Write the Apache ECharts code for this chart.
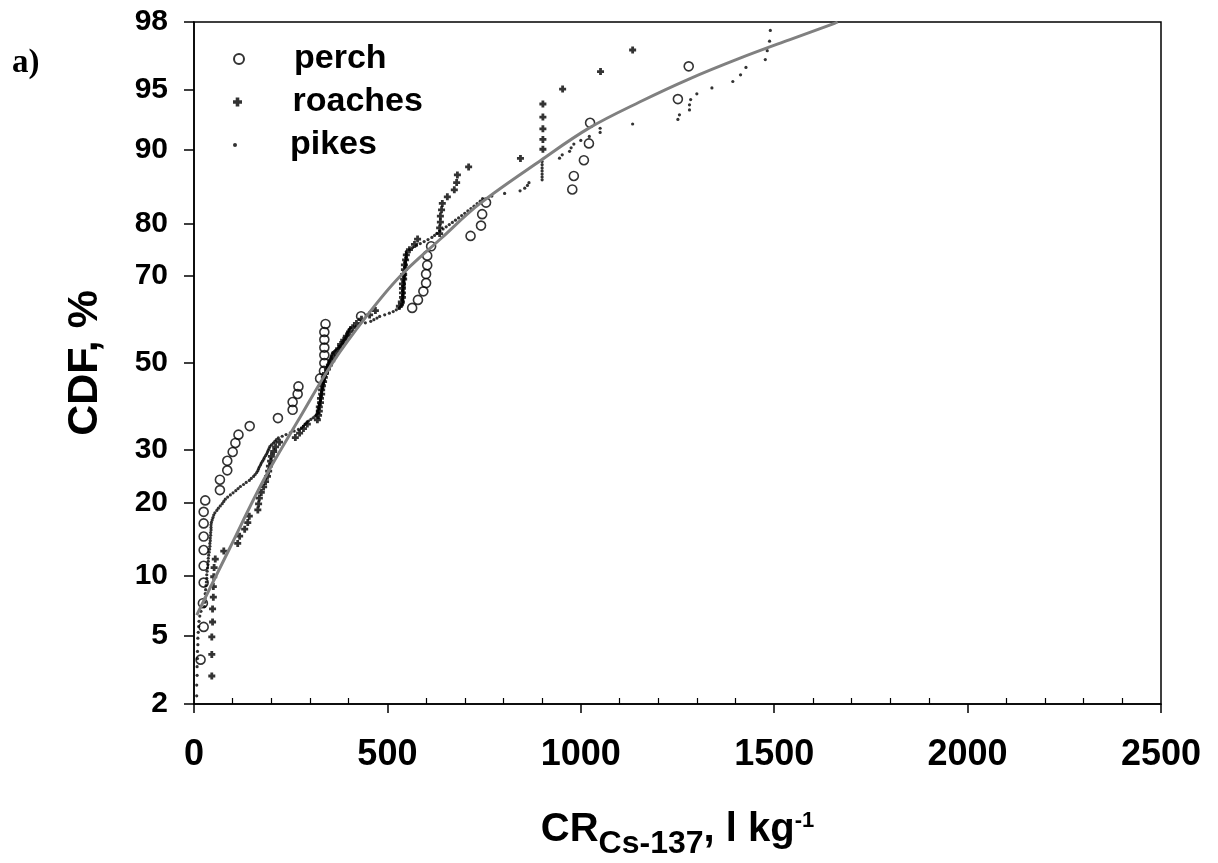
<!DOCTYPE html>
<html><head><meta charset="utf-8">
<script src="https://cdn.jsdelivr.net/npm/echarts@6/dist/echarts.min.js"></script>
<style>html,body{margin:0;padding:0;background:#fff}#chart{width:1218px;height:863px}</style>
</head><body><div id="chart"></div>
<script>
// ---- data (x = CR value, l/kg ; cdf = cumulative %) ----
const perchX = [17,25,23,25,25,25,25,25,25,29,67,67,86,86,100,107,115,144,217,255,255,268,270,326,336,337,337,337,337,337,340,432,564,579,593,600,600,603,603,613,715,742,745,755,978,982,1008,1021,1024,1251,1279];
const perchCDF = [3.7,5.6,7.4,9.3,11.1,13.0,14.8,16.7,18.5,20.4,22.2,24.1,25.9,27.8,29.6,31.5,33.3,35.2,37.0,38.9,40.7,42.6,44.4,46.3,48.1,50.0,51.9,53.7,55.6,57.4,59.3,61.1,63.0,64.8,66.7,68.5,70.4,72.2,74.1,75.9,77.8,79.6,81.5,83.3,85.2,87.0,88.9,90.7,92.6,94.4,96.3];

const roachX = [46,46,46,48,48,50,50,51,52,55,77,113,118,131,139,143,165,167,169,174,180,185,190,193,195,198,200,206,211,221,262,273,283,293,319,322,324,324,327,327,330,330,332,335,337,340,345,350,356,361,366,374,379,387,394,402,410,420,433,454,469,531,536,539,539,539,539,542,542,544,544,547,549,557,570,578,635,635,637,637,640,642,655,673,679,681,710,844,902,902,902,902,902,953,1051,1134];
const roachCDF = [2.97,3.96,4.95,5.94,6.93,7.92,8.91,9.90,10.89,11.88,12.87,13.86,14.85,15.84,16.83,17.82,18.81,19.80,20.79,21.78,22.77,23.76,24.75,25.74,26.73,27.72,28.71,29.70,30.69,31.68,32.67,33.66,34.65,35.64,36.63,37.62,38.61,39.60,40.59,41.58,42.57,43.56,44.55,45.54,46.53,47.52,48.51,49.50,50.50,51.49,52.48,53.47,54.46,55.45,56.44,57.43,58.42,59.41,60.40,61.39,62.38,63.37,64.36,65.35,66.34,67.33,68.32,69.31,70.30,71.29,72.28,73.27,74.26,75.25,76.24,77.23,78.22,79.21,80.20,81.19,82.18,83.17,84.16,85.15,86.14,87.13,88.12,89.11,90.10,91.09,92.08,93.07,94.06,95.05,96.04,97.03];

const pikeX = [7,7,8,8,9,9,10,10,11,12,13,15,18,27,28,29,29,30,31,32,33,33,34,35,36,37,37,38,39,40,41,41,42,42,43,43,44,44,44,45,47,49,51,54,59,63,68,73,77,81,87,94,101,108,114,120,128,135,143,148,154,158,162,165,167,169,172,174,177,180,182,185,188,190,192,194,196,200,205,209,213,218,228,238,249,259,270,278,283,287,291,296,302,308,313,317,319,320,321,322,323,324,325,326,327,327,328,329,330,330,331,332,333,333,334,335,336,337,338,339,340,341,342,343,344,345,346,347,348,350,352,354,355,357,358,363,368,373,376,380,383,385,387,390,393,395,397,398,400,401,405,415,428,443,457,465,473,480,493,505,515,523,530,534,539,540,540,540,540,540,541,541,541,541,541,543,543,543,543,543,545,545,545,545,545,547,547,547,547,547,549,549,549,549,549,557,565,575,585,595,605,615,622,628,636,644,652,660,668,676,684,692,700,708,716,724,732,740,746,770,803,843,855,862,866,900,900,900,900,900,900,900,945,952,971,975,982,1000,1022,1050,1050,1134,1251,1255,1281,1281,1284,1300,1339,1393,1413,1427,1477,1482,1488,1490];
const pikeCDF = [2.25,2.62,3.00,3.37,3.75,4.12,4.49,4.87,5.24,5.62,5.99,6.37,6.74,7.12,7.49,7.86,8.24,8.61,8.99,9.36,9.74,10.11,10.49,10.86,11.24,11.61,11.98,12.36,12.73,13.11,13.48,13.86,14.23,14.61,14.98,15.35,15.73,16.10,16.48,16.85,17.23,17.60,17.98,18.35,18.73,19.10,19.47,19.85,20.22,20.60,20.97,21.35,21.72,22.10,22.47,22.85,23.22,23.60,23.97,24.34,24.72,25.09,25.47,25.84,26.22,26.59,26.96,27.34,27.71,28.09,28.46,28.84,29.21,29.59,29.96,30.33,30.71,31.08,31.46,31.83,32.21,32.58,32.96,33.33,33.71,34.08,34.45,34.83,35.20,35.58,35.95,36.33,36.70,37.08,37.45,37.83,38.20,38.57,38.95,39.32,39.70,40.07,40.45,40.82,41.20,41.57,41.94,42.32,42.69,43.07,43.44,43.82,44.19,44.57,44.94,45.31,45.69,46.06,46.44,46.81,47.19,47.56,47.94,48.31,48.69,49.06,49.43,49.81,50.18,50.56,50.93,51.31,51.68,52.06,52.43,52.81,53.18,53.56,53.93,54.30,54.68,55.05,55.43,55.80,56.18,56.55,56.92,57.30,57.67,58.05,58.42,58.80,59.17,59.55,59.92,60.30,60.67,61.05,61.42,61.80,62.17,62.55,62.92,63.29,63.67,64.04,64.42,64.79,65.17,65.54,65.92,66.29,66.67,67.04,67.42,67.79,68.16,68.54,68.91,69.29,69.66,70.04,70.41,70.79,71.16,71.53,71.91,72.28,72.66,73.03,73.41,73.78,74.16,74.53,74.91,75.27,75.65,76.02,76.40,76.77,77.14,77.52,77.89,78.27,78.65,79.02,79.39,79.77,80.14,80.52,80.89,81.27,81.64,82.01,82.39,82.76,83.14,83.51,83.89,84.26,84.64,85.01,85.38,85.76,86.13,86.50,86.88,87.25,87.63,88.00,88.38,88.75,89.13,89.50,89.88,90.25,90.63,91.00,91.38,91.75,92.13,92.50,92.88,93.25,93.63,94.00,94.37,94.75,95.12,95.50,95.87,96.25,96.62,97.00,97.37,97.74];

const fitX = [7,92,180,273,358,446,531,640,738,898,1022,1152,1281,1410,1539,1656,1664];
const fitCDF = [6.45,13.2,24.04,37.0,50.0,61.1,69.78,77.42,83.10,88.93,92.16,94.2,95.65,96.67,97.42,97.96,98.0];

const yTickLabels = [2,5,10,20,30,50,70,80,90,95,98];
const xMin = 0, xMax = 2500, xStep = 500;

// inverse standard normal CDF (probability-paper scale)
function probit(p){
  const a=[-3.969683028665376e+01,2.209460984245205e+02,-2.759285104469687e+02,1.383577518672690e+02,-3.066479806614716e+01,2.506628277459239e+00];
  const b=[-5.447609879822406e+01,1.615858368580409e+02,-1.556989798598866e+02,6.680131188771972e+01,-1.328068155288572e+01];
  const c=[-7.784894002430293e-03,-3.223964580411365e-01,-2.400758277161838e+00,-2.549732539343734e+00,4.374664141464968e+00,2.938163982698783e+00];
  const d=[7.784695709041462e-03,3.224671290700398e-01,2.445134137142996e+00,3.754408661907416e+00];
  const pl=0.02425, ph=1-pl; let q,r;
  if(p<pl){q=Math.sqrt(-2*Math.log(p));return (((((c[0]*q+c[1])*q+c[2])*q+c[3])*q+c[4])*q+c[5])/((((d[0]*q+d[1])*q+d[2])*q+d[3])*q+1);}
  if(p<=ph){q=p-0.5;r=q*q;return (((((a[0]*r+a[1])*r+a[2])*r+a[3])*r+a[4])*r+a[5])*q/(((((b[0]*r+b[1])*r+b[2])*r+b[3])*r+b[4])*r+1);}
  q=Math.sqrt(-2*Math.log(1-p));return -(((((c[0]*q+c[1])*q+c[2])*q+c[3])*q+c[4])*q+c[5])/((((d[0]*q+d[1])*q+d[2])*q+d[3])*q+1);
}
const toPts = (xs, ps) => xs.map((x, i) => [x, probit(ps[i] / 100)]);
const yTickZ = yTickLabels.map(p => probit(p / 100));

const FONT = '"Liberation Sans", Arial, sans-serif';
const chart = echarts.init(document.getElementById('chart'), null, {renderer: 'canvas'});
const legendBase = (name, top, h) => ({
  data: [{name}], orient: 'vertical', left: 228, top, itemWidth: 10, itemHeight: h,
  symbolKeepAspect: true, selectedMode: false,
  textStyle: {fontFamily: FONT, fontWeight: 'bold', fontSize: 34, color: '#000', padding: [0, 0, 0, 45]}
});
const titleRich = {
  m: {fontFamily: FONT, fontWeight: 'bold', fontSize: 40, color: '#000', lineHeight: 40, verticalAlign: 'top'},
  sub: {fontFamily: FONT, fontWeight: 'bold', fontSize: 32, color: '#000', lineHeight: 30, padding: [18, 0, 0, 0], verticalAlign: 'top'},
  sup: {fontFamily: FONT, fontWeight: 'bold', fontSize: 22, color: '#000', lineHeight: 24, verticalAlign: 'top'}
};
chart.setOption({
  animation: false,
  backgroundColor: '#fff',
  grid: {left: 194, right: 57, top: 22, bottom: 159, show: true, borderColor: '#000', borderWidth: 1.5,
    containLabel: false, outerBoundsMode: 'none'},
  legend: [legendBase('perch', 37, 10), legendBase('roaches', 80, 9), legendBase('pikes', 123, 4)],
  graphic: [{type: 'text', left: 12, top: 47, style: {text: 'a)', font: 'bold 33px "Liberation Serif", serif', fill: '#000'}}],
  xAxis: {
    type: 'value', min: xMin, max: xMax, interval: xStep,
    axisLine: {onZero: false, lineStyle: {color: '#000', width: 1.5}},
    axisTick: {show: true, length: 9, lineStyle: {color: '#000', width: 1.5}},
    minorTick: {show: true, splitNumber: 5, length: -6, lineStyle: {color: '#000', width: 1.2}},
    splitLine: {show: false},
    axisLabel: {margin: 33, fontFamily: FONT, fontWeight: 'bold', fontSize: 36, color: '#000', formatter: v => String(v)},
    name: '{m|CR}{sub|Cs-137}{m|, l kg}{sup|-1}', nameLocation: 'middle', nameGap: 106,
    nameTextStyle: {rich: titleRich}
  },
  yAxis: {
    type: 'value', min: probit(0.02), max: probit(0.98),
    axisLine: {show: true, onZero: false, lineStyle: {color: '#000', width: 1.5}},
    axisTick: {show: true, length: 10, customValues: yTickZ, lineStyle: {color: '#000', width: 1.5}},
    splitLine: {show: false},
    axisLabel: {customValues: yTickZ, margin: 26, fontFamily: FONT, fontWeight: 'bold', fontSize: 30, color: '#000',
      formatter: v => { let best = 0; yTickZ.forEach((z, i) => { if (Math.abs(z - v) < Math.abs(yTickZ[best] - v)) best = i; }); return String(yTickLabels[best]); }},
    name: 'CDF, %', nameLocation: 'middle', nameGap: 87,
    nameTextStyle: {fontFamily: FONT, fontWeight: 'bold', fontSize: 43, color: '#000'}
  },
  series: [
    {name: 'perch', type: 'scatter', data: toPts(perchX, perchCDF), symbol: 'circle', symbolSize: 9,
      itemStyle: {color: 'rgba(255,255,255,0)', borderColor: '#000', borderWidth: 1.6}, z: 3},
    {name: 'roaches', type: 'scatter', data: toPts(roachX, roachCDF),
      symbol: 'path://M3,0H7V3H10V7H7V10H3V7H0V3H3Z', symbolSize: 7, itemStyle: {color: '#000'}, z: 2},
    {name: 'pikes', type: 'scatter', data: toPts(pikeX, pikeCDF), symbol: 'circle', symbolSize: 3.2,
      itemStyle: {color: '#000'}, z: 2},
    {name: 'fit', type: 'line', data: toPts(fitX, fitCDF), showSymbol: false, smooth: 0.35,
      lineStyle: {color: '#808080', width: 3}, z: 4, silent: true}
  ]
});
</script></body></html>
